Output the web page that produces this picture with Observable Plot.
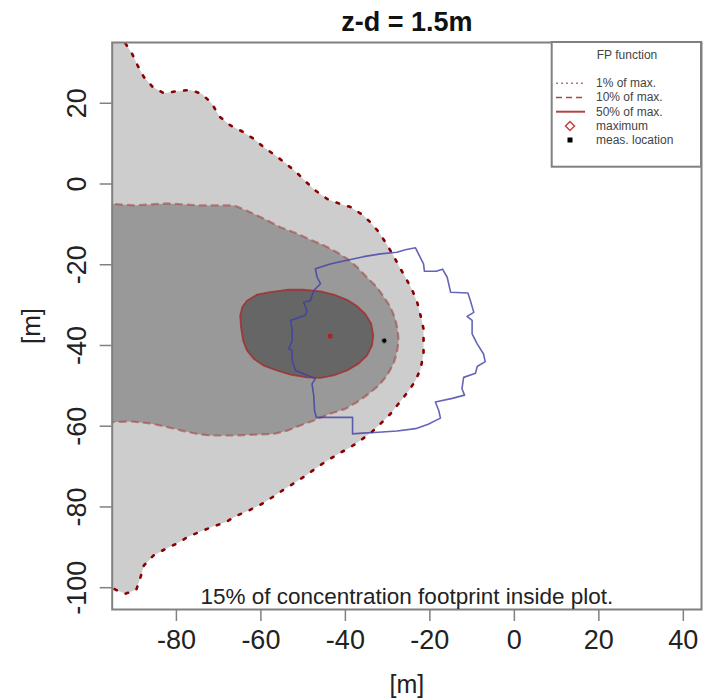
<!DOCTYPE html>
<html><head><meta charset="utf-8">
<script src="https://cdn.jsdelivr.net/npm/d3@7"></script>
<script src="https://cdn.jsdelivr.net/npm/@observablehq/plot@0.6"></script>
<style>
body{margin:0;background:#fff;font-family:"Liberation Sans",Arial,sans-serif}
#chart{width:710px;height:700px}
</style></head><body><div id="chart"></div>
<script>
const title = "z-d = 1.5m";
const footnote = "15% of concentration footprint inside plot.";
const axisLabelX = "[m]";
const axisLabelY = "[m]";
const xTicks = [-80, -60, -40, -20, 0, 20, 40];
const yTicks = [20, 0, -20, -40, -60, -80, -100];
const xDomain = [-95.2, 44.3];
const yDomain = [-105.4, 35.05];

// 1% of max contour (outer)
const fp1 = [[-100,36],[-92.8,36.0],[-90.5,32.3],[-89.2,29.4],[-87.7,26.5],[-85.6,24.0],[-83.0,22.5],[-79.7,23.0],[-76.7,23.3],[-73.9,22.3],[-71.6,19.9],[-69.8,16.7],[-67.2,14.5],[-64.4,13.0],[-61.7,11.2],[-59.3,9.1],[-56.6,7.1],[-54.0,5.0],[-51.4,2.7],[-49.2,0.4],[-47.1,-1.6],[-44.3,-3.7],[-41.6,-4.8],[-38.8,-5.7],[-35.7,-7.8],[-33.7,-9.9],[-32.1,-11.9],[-30.3,-14.8],[-28.6,-17.8],[-27.4,-20.2],[-25.8,-23.1],[-24.2,-26.2],[-23.0,-29.3],[-22.2,-32.6],[-21.5,-35.9],[-21.5,-38.8],[-21.5,-42.1],[-22.2,-45.8],[-23.4,-48.7],[-25.0,-51.2],[-27.1,-54.0],[-29.3,-56.9],[-31.7,-59.4],[-33.7,-61.4],[-36.4,-63.5],[-38.8,-65.2],[-41.6,-66.8],[-44.3,-68.5],[-46.7,-70.2],[-49.1,-72.0],[-51.8,-73.9],[-54.6,-75.7],[-57.3,-77.6],[-59.7,-79.2],[-62.9,-80.9],[-65.6,-82.1],[-68.4,-83.8],[-71.2,-84.8],[-74.3,-86.1],[-77.1,-87.3],[-79.8,-89.0],[-82.6,-90.4],[-85.4,-92.0],[-87.7,-94.5],[-88.5,-97.4],[-89.5,-100.5],[-92.1,-101.5],[-94.4,-100.5],[-95.6,-99.7],[-100,-99.7]];

// 10% of max contour
const fp10 = [[-100,-4.9],[-95.4,-4.9],[-90.1,-5.3],[-82.2,-4.8],[-74.3,-5.3],[-66.4,-5.3],[-63.3,-6.6],[-60.9,-7.8],[-58.5,-9.0],[-55.4,-10.7],[-51.4,-12.3],[-48.3,-13.8],[-45.1,-15.2],[-42.0,-16.9],[-39.6,-18.5],[-37.2,-20.6],[-34.9,-23.1],[-32.5,-25.6],[-30.9,-28.0],[-29.3,-30.5],[-28.2,-33.4],[-27.6,-36.3],[-27.4,-38.8],[-27.8,-41.7],[-28.6,-44.5],[-30.1,-47.4],[-32.1,-49.9],[-34.5,-52.0],[-37.2,-54.0],[-40.0,-55.7],[-43.6,-56.9],[-47.5,-58.6],[-50.7,-59.8],[-53.8,-61.1],[-57.0,-61.9],[-61.7,-62.1],[-66.4,-62.3],[-72.0,-62.3],[-75.1,-61.9],[-78.3,-61.2],[-82.2,-60.2],[-86.2,-59.3],[-90.9,-58.8],[-95.4,-59.0],[-100,-59.0]];

// 50% of max contour
const fp50 = [[-64.9,-32.6],[-64.4,-30.5],[-63.3,-28.9],[-60.9,-27.4],[-57.8,-26.8],[-53.8,-26.2],[-49.9,-26.2],[-45.9,-26.6],[-42.8,-27.4],[-39.6,-28.7],[-37.2,-30.3],[-35.3,-32.2],[-33.9,-34.6],[-33.4,-37.5],[-33.7,-40.0],[-34.9,-42.5],[-36.9,-44.5],[-39.6,-46.2],[-42.8,-47.4],[-45.9,-48.0],[-49.1,-47.9],[-53.0,-47.2],[-56.2,-46.2],[-59.3,-45.0],[-61.7,-43.3],[-63.3,-41.2],[-64.2,-38.8],[-64.7,-35.5],[-64.9,-32.6]];

// blue outline
const sourceArea = [[-47.1,-21.0],[-43.6,-19.8],[-39.6,-18.9],[-35.7,-18.0],[-31.7,-17.3],[-27.8,-16.9],[-25.8,-16.3],[-23.4,-15.8],[-22.7,-17.3],[-21.5,-19.8],[-21.3,-21.6],[-18.5,-21.6],[-17.0,-21.1],[-15.9,-23.1],[-15.1,-26.8],[-11.0,-27.0],[-10.4,-28.9],[-9.6,-31.8],[-11.2,-32.8],[-10.0,-33.8],[-10.0,-37.1],[-8.8,-39.6],[-7.3,-42.1],[-6.9,-44.0],[-8.8,-45.2],[-9.2,-46.9],[-12.0,-47.9],[-12.4,-50.7],[-11.8,-52.3],[-14.7,-53.1],[-18.7,-54.0],[-17.9,-56.1],[-17.5,-58.0],[-20.4,-59.5],[-23.4,-60.6],[-27.8,-61.2],[-32.2,-61.5],[-36.0,-61.7],[-38.3,-61.9],[-38.3,-57.8],[-46.9,-57.8],[-47.3,-56.1],[-47.5,-52.4],[-47.9,-49.5],[-47.1,-48.2],[-49.1,-47.4],[-51.8,-46.2],[-52.6,-43.7],[-52.6,-41.2],[-53.4,-40.8],[-52.6,-38.8],[-52.6,-35.9],[-53.0,-33.8],[-51.1,-33.1],[-49.5,-32.6],[-49.1,-31.3],[-49.9,-29.3],[-48.3,-28.9],[-47.5,-26.4],[-45.9,-24.7],[-46.3,-23.9],[-46.7,-23.1],[-47.1,-21.0]];

const maxLoc = [[-43.6, -37.7]];
const measLoc = [[-30.8, -38.8]];

const legendTitle = "FP function";
const legendLabels = ["1% of max.", "10% of max.", "50% of max.", "maximum", "meas. location"];

const X = d => d[0], Y = d => d[1];
const FONT = "Liberation Sans, Arial, Helvetica, sans-serif";

const chart = Plot.plot({
  width: 710, height: 700,
  marginLeft: 111.7, marginRight: 9, marginTop: 42, marginBottom: 91,
  style: {fontFamily: FONT, background: "white", overflow: "visible"},
  x: {domain: xDomain},
  y: {domain: yDomain},
  marks: [
    Plot.line(fp1, {x: X, y: Y, fill: "#cdcdcd", stroke: "none", clip: true}),
    Plot.line(fp10, {x: X, y: Y, fill: "#999999", stroke: "none", clip: true}),
    Plot.line(fp50, {x: X, y: Y, fill: "#666666", stroke: "none", clip: true}),
    Plot.line(fp1, {x: X, y: Y, stroke: "#8b0000", strokeWidth: 2.6, strokeDasharray: "2.6 9.5", clip: true}),
    Plot.line(fp10, {x: X, y: Y, stroke: "#a83a3a", strokeOpacity: 0.55, strokeWidth: 2.2, strokeDasharray: "6 6", clip: true}),
    Plot.line(fp50, {x: X, y: Y, stroke: "#a52a2a", strokeOpacity: 0.8, strokeWidth: 1.8, clip: true}),
    Plot.line(sourceArea, {x: X, y: Y, stroke: "#3f3fa6", strokeOpacity: 0.8, strokeWidth: 1.6, clip: true}),
    Plot.dot(maxLoc, {x: X, y: Y, symbol: "square", r: 2, stroke: "#b22222", strokeWidth: 1, fill: "#b22222"}),
    Plot.dot(measLoc, {x: X, y: Y, r: 2.6, fill: "black", stroke: "#888", strokeWidth: 1}),
    Plot.frame({stroke: "#808080", strokeWidth: 2}),
    Plot.axisX(xTicks, {tickSize: 12, tickPadding: 8, tickFormat: d => String(d), fontSize: 27, stroke: "#808080", strokeWidth: 1.5, fill: "#222", label: null}),
    Plot.axisY(yTicks, {tickSize: 12, tickPadding: 14.7, tickRotate: -90, tickFormat: d => String(d), fontSize: 27, stroke: "#808080", strokeWidth: 1.5, fill: "#222", label: null}),
    Plot.text([title], {frameAnchor: "top", lineAnchor: "middle", textAnchor: "middle", dy: -20, fontSize: 27, fontWeight: "bold", fill: "#111"}),
    Plot.text([footnote], {frameAnchor: "bottom", lineAnchor: "bottom", textAnchor: "middle", dy: -6, fontSize: 22.5, fill: "#222"}),
    Plot.text([axisLabelX], {frameAnchor: "bottom", lineAnchor: "middle", textAnchor: "middle", dy: 75, fontSize: 25, fill: "#222"}),
    Plot.text([axisLabelY], {frameAnchor: "left", lineAnchor: "middle", textAnchor: "middle", dx: -80.7, rotate: -90, fontSize: 26, fill: "#222"})
  ]
});

document.getElementById("chart").appendChild(chart);

// legend (drawn into the same svg)
const svg = d3.select(chart);
const lg = svg.append("g").attr("font-family", FONT).attr("font-size", 12).attr("fill", "#444");
lg.append("rect").attr("x", 551.7).attr("y", 42).attr("width", 149.3).attr("height", 124.7)
  .attr("fill", "white").attr("stroke", "#808080").attr("stroke-width", 2);
lg.append("text").attr("x", 627).attr("y", 55).attr("dy", "0.32em").attr("text-anchor", "middle")
  .attr("font-size", 12).text(legendTitle);
const rowY = [83.3, 97.5, 111.7, 126, 140];
const lineStyles = [
  {dash: "2 3", color: "#c07070", w: 1.6},
  {dash: "6 4", color: "#b04545", w: 1.6},
  {dash: null, color: "#b04545", w: 2}
];
legendLabels.forEach((lab, i) => {
  const y = rowY[i];
  if (i < 3) {
    const s = lineStyles[i];
    const l = lg.append("line").attr("x1", 556).attr("x2", 585).attr("y1", y).attr("y2", y)
      .attr("stroke", s.color).attr("stroke-width", s.w);
    if (s.dash) l.attr("stroke-dasharray", s.dash);
  } else if (i === 3) {
    lg.append("path").attr("d", `M570,${y-4.5}L574.5,${y}L570,${y+4.5}L565.5,${y}Z`)
      .attr("fill", "none").attr("stroke", "#c84040").attr("stroke-width", 1.5);
  } else {
    lg.append("rect").attr("x", 567.5).attr("y", y - 2.5).attr("width", 5).attr("height", 5).attr("fill", "black");
  }
  lg.append("text").attr("x", 596).attr("y", y).attr("dy", "0.32em").attr("text-anchor", "start").text(lab);
});
</script>
</body></html>
